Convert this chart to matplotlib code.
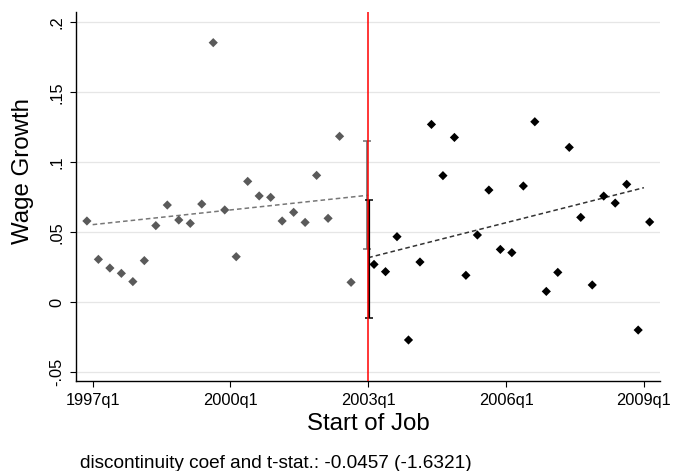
import matplotlib
matplotlib.use("Agg")
import matplotlib.pyplot as plt

plt.rcParams['font.family'] = ['Liberation Sans', 'DejaVu Sans']

# quarter index relative to 2003q1 (bin midpoints)
left_x = [-24.5, -23.5, -22.5, -21.5, -20.5, -19.5, -18.5, -17.5, -16.5, -15.5, -14.5, -13.5,
          -12.5, -11.5, -10.5, -9.5, -8.5, -7.5, -6.5, -5.5, -4.5, -3.5, -2.5, -1.5]
left_y = [0.0581, 0.0307, 0.0245, 0.0207, 0.0148, 0.0298, 0.0548, 0.0695, 0.0588, 0.0564,
          0.0702, 0.1855, 0.0660, 0.0326, 0.0864, 0.0760, 0.0750, 0.0581, 0.0643, 0.0571,
          0.0907, 0.0600, 0.1186, 0.0143]
right_x = [0.5, 1.5, 2.5, 3.5, 4.5, 5.5, 6.5, 7.5, 8.5, 9.5, 10.5, 11.5, 12.5, 13.5, 14.5,
           15.5, 16.5, 17.5, 18.5, 19.5, 20.5, 21.5, 22.5, 23.5, 24.5]
right_y = [0.0271, 0.0219, 0.0469, -0.0269, 0.0288, 0.1271, 0.0905, 0.1178, 0.0193, 0.0481,
           0.0802, 0.0378, 0.0355, 0.0831, 0.1290, 0.0078, 0.0214, 0.1107, 0.0607, 0.0124,
           0.0759, 0.0709, 0.0843, -0.0198, 0.0574]

# fitted lines (endpoints)
fit_left_x = [-24, 0]
fit_left_y = [0.0555, 0.0765]
fit_right_x = [0, 24]
fit_right_y = [0.0319, 0.0819]

# confidence intervals at the cutoff
ci_left = [0.0383, 0.1152]
ci_right = [-0.0112, 0.0733]

xtick_pos = [-24, -12, 0, 12, 24]
xtick_labels = ['1997q1', '2000q1', '2003q1', '2006q1', '2009q1']
ytick_pos = [-0.05, 0, 0.05, 0.1, 0.15, 0.2]
ytick_labels = ['-.05', '0', '.05', '.1', '.15', '.2']

note = 'discontinuity coef and t-stat.: -0.0457 (-1.6321)'

W, H = 673, 471
fig = plt.figure(figsize=(W / 100, H / 100), dpi=100)
ax = fig.add_axes([76 / W, 1 - 381 / H, (660 - 76) / W, (381 - 12) / H])

ax.set_xlim(-25.45, 25.4)
ax.set_ylim(-0.0562, 0.2074)

for y in ytick_pos:
    ax.axhline(y, color='#e6e6e6', lw=0.9, zorder=0)

ax.scatter(left_x, left_y, marker='D', s=22, color='#5a5a5a', edgecolors='none', zorder=3)
ax.scatter(right_x, right_y, marker='D', s=22, color='black', edgecolors='none', zorder=3)

ax.plot(fit_left_x, fit_left_y, color='#777777', lw=1.1, dashes=(3, 2), zorder=2)
ax.plot(fit_right_x, fit_right_y, color='#333333', lw=1.1, dashes=(3, 2), zorder=2)

ax.axvline(0, color='red', lw=1.1, zorder=4)

ax.errorbar([-0.08], [(ci_left[0] + ci_left[1]) / 2], yerr=[(ci_left[1] - ci_left[0]) / 2],
            fmt='none', ecolor='#6e6e6e', elinewidth=1.2, capsize=3, capthick=1.1, zorder=3)
ax.errorbar([0.1], [(ci_right[0] + ci_right[1]) / 2], yerr=[(ci_right[1] - ci_right[0]) / 2],
            fmt='none', ecolor='black', elinewidth=1.6, capsize=3, capthick=1.1, zorder=3.5)

ax.set_xticks(xtick_pos)
ax.set_xticklabels(xtick_labels, fontsize=11.8)
ax.set_yticks(ytick_pos)
ax.set_yticklabels(ytick_labels, fontsize=11.8, rotation=90, va='center', ha='center')
ax.tick_params(axis='both', direction='out', length=4.5, width=0.8, color='black')
ax.tick_params(axis='x', pad=4.5)
ax.tick_params(axis='y', pad=9)

for s in ['top', 'right']:
    ax.spines[s].set_visible(False)
for s in ['left', 'bottom']:
    ax.spines[s].set_linewidth(1.0)
    ax.spines[s].set_color('black')

fig.text(368 / W, 1 - 430 / H, 'Start of Job', fontsize=17.3, ha='center', va='baseline')
fig.text(23 / W, 1 - 171 / H, 'Wage Growth', fontsize=17.3, ha='center', va='center', rotation=90)
fig.text(80 / W, 1 - 468 / H, note, fontsize=13.7, ha='left', va='baseline')

fig.savefig('out.png', dpi=100, facecolor='white')
